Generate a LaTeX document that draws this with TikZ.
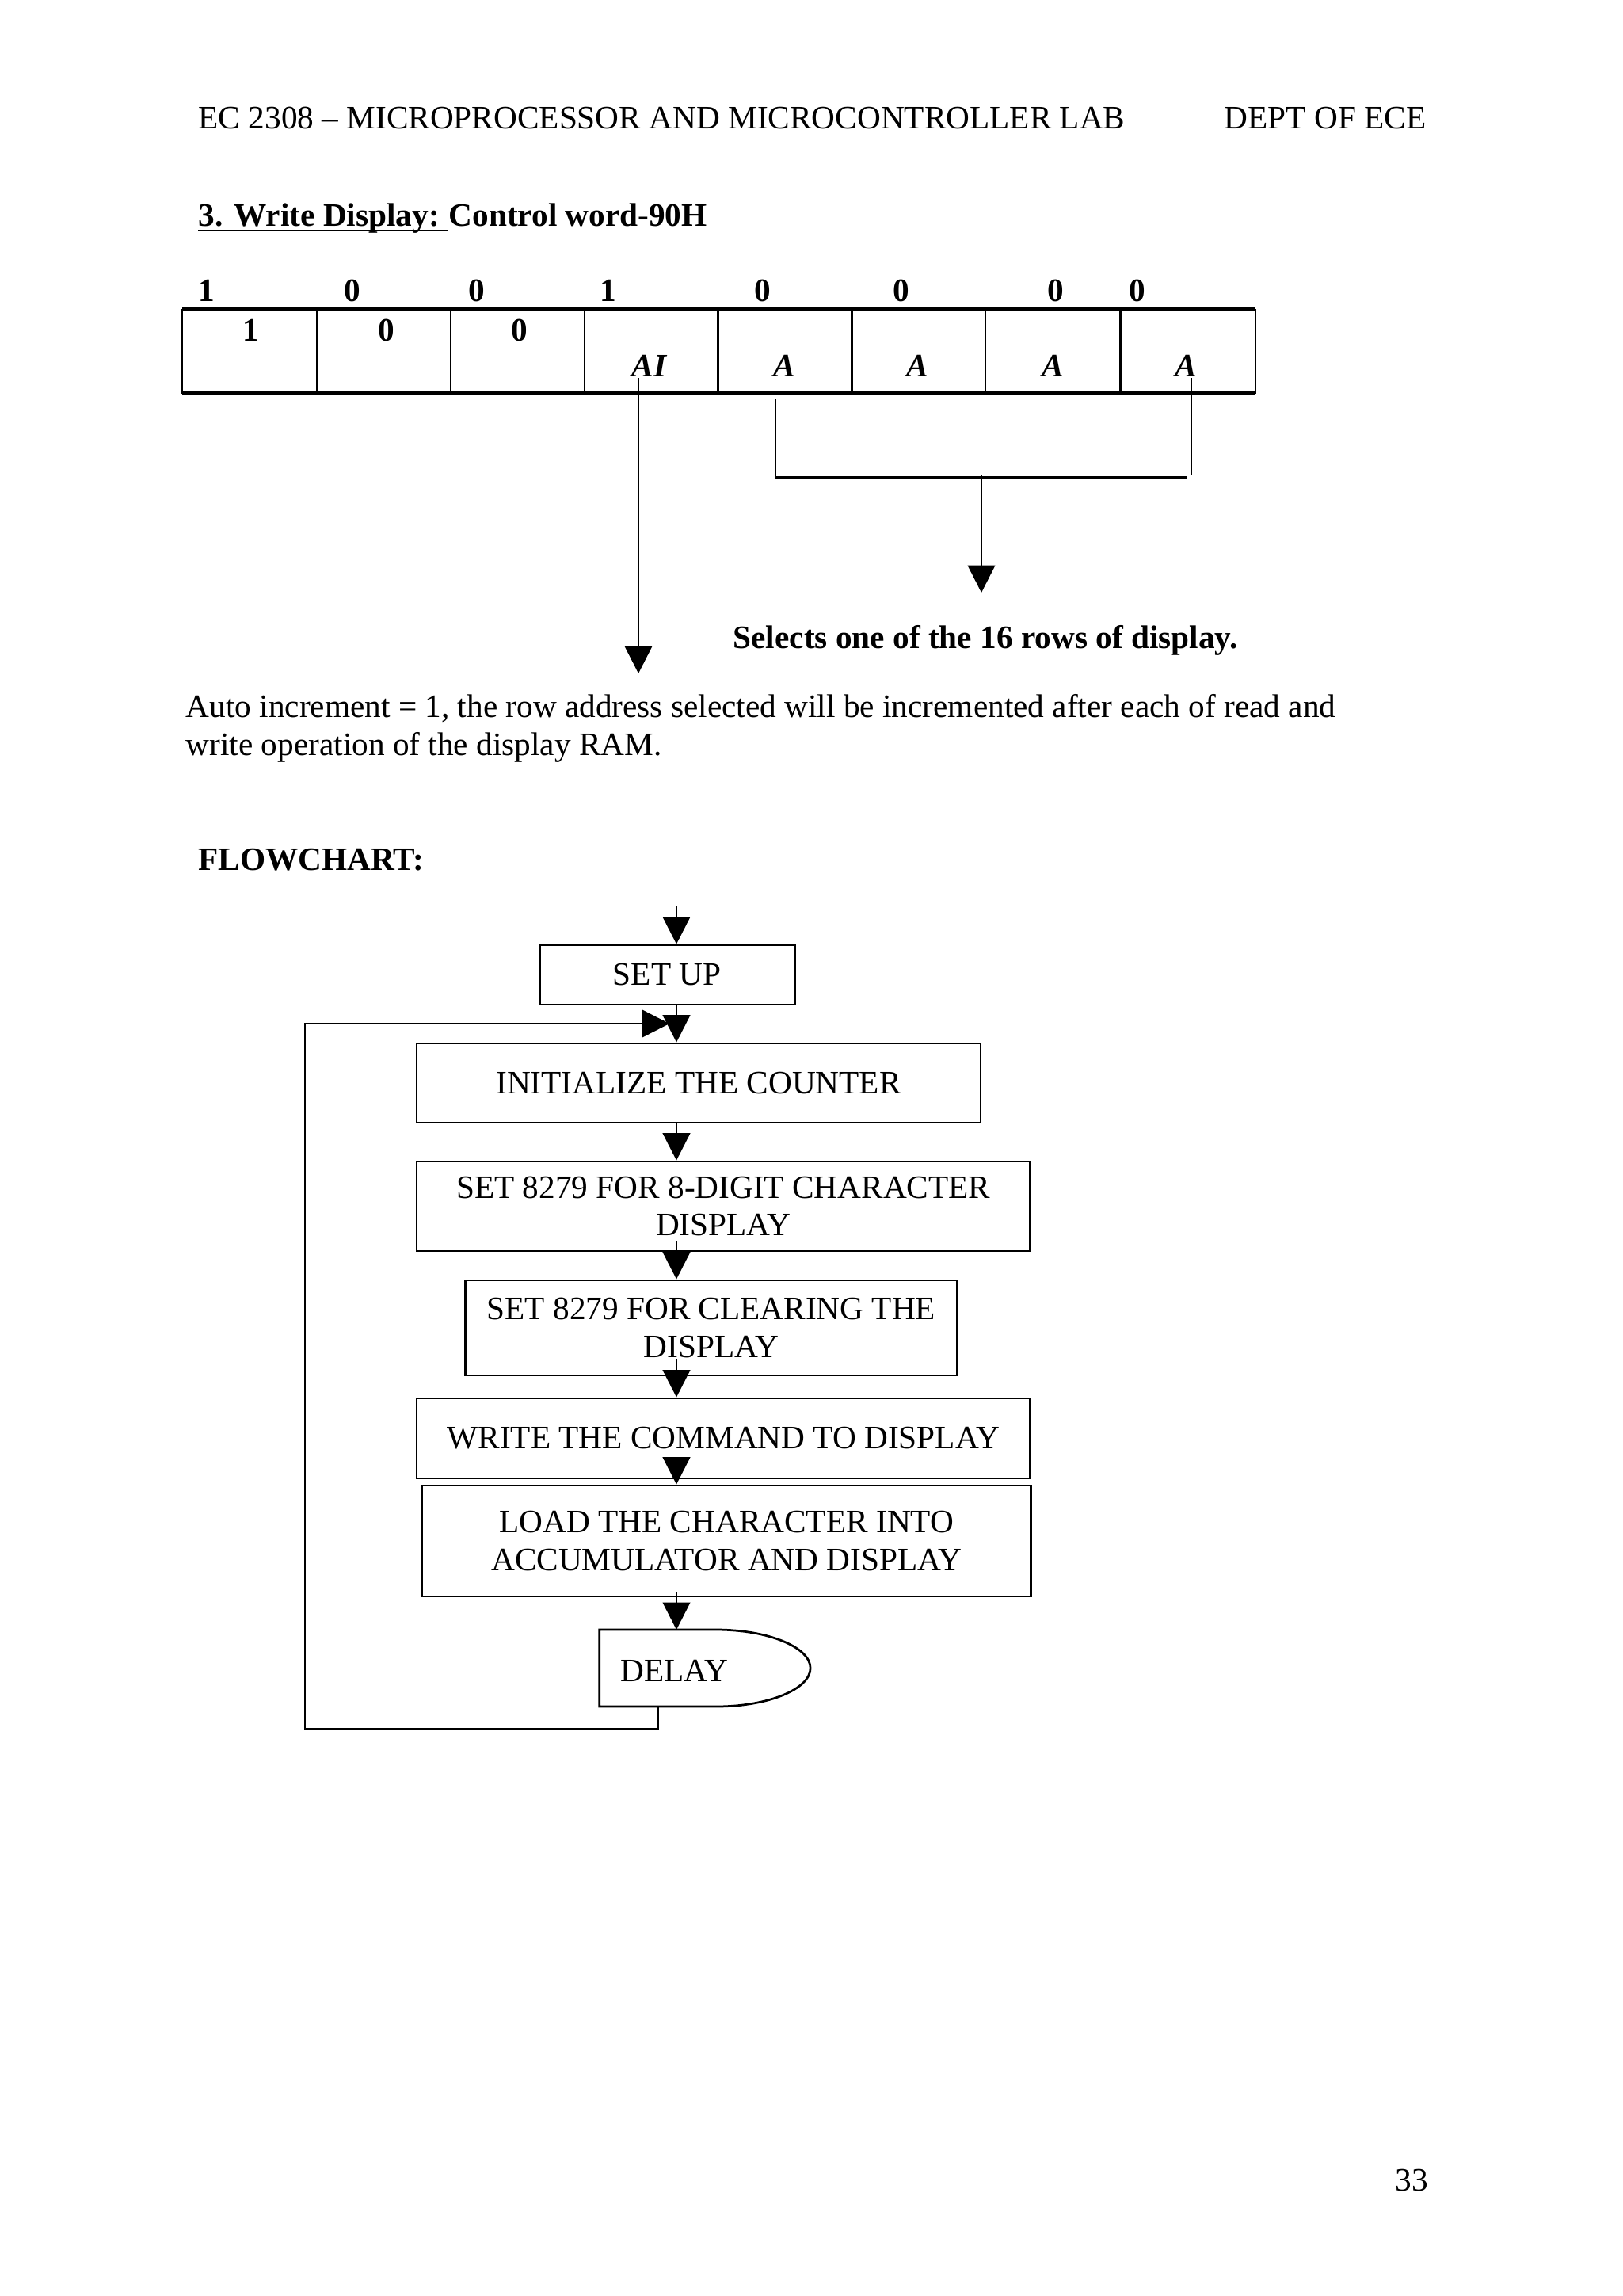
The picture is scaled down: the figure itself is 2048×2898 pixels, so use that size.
\documentclass[tikz,border=0pt]{standalone}
\usepackage{fontspec}
\setmainfont{Liberation Serif}
\usetikzlibrary{arrows.meta}
\def\u{0.29067pt}
\begin{document}
\begin{tikzpicture}[x=0.29067pt,y=-0.29067pt,
  txt/.style={anchor=base west,inner sep=0pt,font=\fontsize{12}{13.7}\selectfont},
  btxt/.style={anchor=base west,inner sep=0pt,font=\fontsize{12}{13.7}\selectfont\bfseries},
  bitxt/.style={anchor=base west,inner sep=0pt,font=\fontsize{12}{13.7}\selectfont\bfseries\itshape},
  fbox/.style={draw,line width=0.8pt,inner sep=0pt,align=center,font=\fontsize{12}{13.7}\selectfont},
  arr/.style={line width=0.8pt,-{Triangle[length=10pt,width=10pt]}},
  ln/.style={line width=0.8pt},
  thick line/.style={line width=1.3pt},
  thin line/.style={line width=0.6pt}]
\fill[white] (0,0) rectangle (2048,2898);
\useasboundingbox (0,0) rectangle (2048,2898);

% header
\node[txt] (hdr) at (250,162) {EC 2308 -- MICROPROCESSOR AND MICROCONTROLLER LAB};
\node[txt] (dept) at (1545,162) {DEPT OF ECE};

% title
\node[btxt] (t1) at (250,285) {3. Write Display:\ \mbox{}};
\node[btxt] (t2) at (t1.base east) {Control word-90H};
\draw[line width=0.7pt] ([yshift=-6*\u]t1.base west) -- ([yshift=-6*\u]t1.base east);

% bit values above the register
\node[btxt] (b1) at (250,380) {1};
\node[btxt] (b2) at (434,380) {0};
\node[btxt] (b3) at (591,380) {0};
\node[btxt] (b4) at (757,380) {1};
\node[btxt] (b5) at (952,380) {0};
\node[btxt] (b6) at (1127,380) {0};
\node[btxt] (b7) at (1322,380) {0};
\node[btxt] (b8) at (1425,380) {0};

% register box
\node (reg) [inner sep=0pt, minimum width=1354*\u, minimum height=105*\u] at (907.7,443.5) {};
\draw[thick line] (reg.north west) -- (reg.north east);
\draw[thick line] (reg.south west) -- (reg.south east);
\draw[thin line] (reg.north west) -- (reg.south west);
\draw[thin line] (reg.north east) -- (reg.south east);
\foreach \xx in {399.7,568.6,737.6,906.5,1075.5,1244.4,1414.5}
  \draw[thin line] (\xx,391) -- (\xx,496);

\node[btxt] (c1) at (306,430) {1};
\node[btxt] (c2) at (477,430) {0};
\node[btxt] (c3) at (645,430) {0};
\node[bitxt] (c4) at (797,475) {AI};
\node[bitxt] (c5) at (976,475) {A};
\node[bitxt] (c6) at (1144,475) {A};
\node[bitxt] (c7) at (1315,475) {A};
\node[bitxt] (c8) at (1483,475) {A};

% connectors of the register
\coordinate (aiS) at (806,477);
\coordinate (aiE) at (806,850);
\draw[arr] (aiS) -- (aiE);
\coordinate (aR) at (1504,477);
\coordinate (aRb) at (1504,600);
\draw[thin line] (aR) -- (aRb);
\coordinate (aL) at (979,504);
\coordinate (aLb) at (979,603);
\coordinate (brR) at (1499,603);
\draw[thin line] (aL) -- (aLb);
\draw[thick line] (aLb) -- (brR);
\coordinate (midS) at (1239,600);
\coordinate (midE) at (1239,748);
\draw[arr] (midS) -- (midE);

\node[btxt] (sel) at (925,818) {Selects one of the 16 rows of display.};

\node[txt] (auto1) at (234,905) {Auto increment = 1, the row address selected will be incremented after each of read and};
\node[txt] (auto2) at (234,953) {write operation of the display RAM.};

\node[btxt] (fc) at (250,1098) {FLOWCHART:};

% flowchart
\coordinate (col) at (854,0);
\coordinate (start) at (854,1144);
\node[fbox, minimum width=322*\u, minimum height=75*\u] (setup) at (842.2,1230.5) {SET UP};
\node[fbox, minimum width=711.8*\u, minimum height=100*\u] (init) at (882,1367) {INITIALIZE THE COUNTER};
\node[fbox, minimum width=774.4*\u, minimum height=113*\u] (set8) at (913.3,1522.5) {SET 8279 FOR 8-DIGIT CHARACTER\\DISPLAY};
\node[fbox, minimum width=620.2*\u, minimum height=120*\u] (clear) at (897.9,1676) {SET 8279 FOR CLEARING THE\\DISPLAY};
\node[fbox, minimum width=774.4*\u, minimum height=101*\u] (write) at (913.3,1815.5) {WRITE THE COMMAND TO DISPLAY};
\node[fbox, minimum width=768.4*\u, minimum height=140*\u] (load) at (917.3,1945) {LOAD THE CHARACTER INTO\\ACCUMULATOR AND DISPLAY};

% delay shape
\coordinate (dNW) at (756.8,2057);
\coordinate (dNE) at (903.9,2057);
\coordinate (dE) at (1023.1,2105.5);
\coordinate (dSE) at (903.9,2154);
\coordinate (dSW) at (756.8,2154);
\draw[ln] (dNW) -- (dNE) .. controls (969.7,2057) and (1023.1,2079) .. (dE)
  .. controls (1023.1,2132) and (969.7,2154) .. (dSE) -- (dSW) -- cycle;
\node[txt] (delay) at (782.6,2122) {DELAY};
\coordinate (dTop) at (854,2057);

\draw[arr] (start) -- (setup.north -| col);
\draw[arr] (setup.south -| col) -- (init.north -| col);
\draw[arr] (init.south -| col) -- (set8.north -| col);
\draw[arr] ([yshift=13*\u]set8.south -| col) -- (clear.north -| col);
\draw[arr] ([yshift=22*\u]clear.south -| col) -- (write.north -| col);
\draw[arr] ([yshift=5*\u]write.south -| col) -- (load.north -| col);
\draw[arr] ([yshift=7*\u]load.south -| col) -- (dTop);

% loop back
\coordinate (lp0) at (830.3,2154);
\coordinate (lp1) at (830.3,2182);
\coordinate (lp2) at (385,2182);
\coordinate (lp3) at (385,1292);
\coordinate (lp4) at (845.2,1292);
\draw[ln] (lp0) -- (lp1) -- (lp2) -- (lp3) -- (lp4);
\draw[arr] (lp3) -- (lp4);

% page number
\node[txt] (pg) at (1761,2765) {33};
\end{tikzpicture}
\end{document}
